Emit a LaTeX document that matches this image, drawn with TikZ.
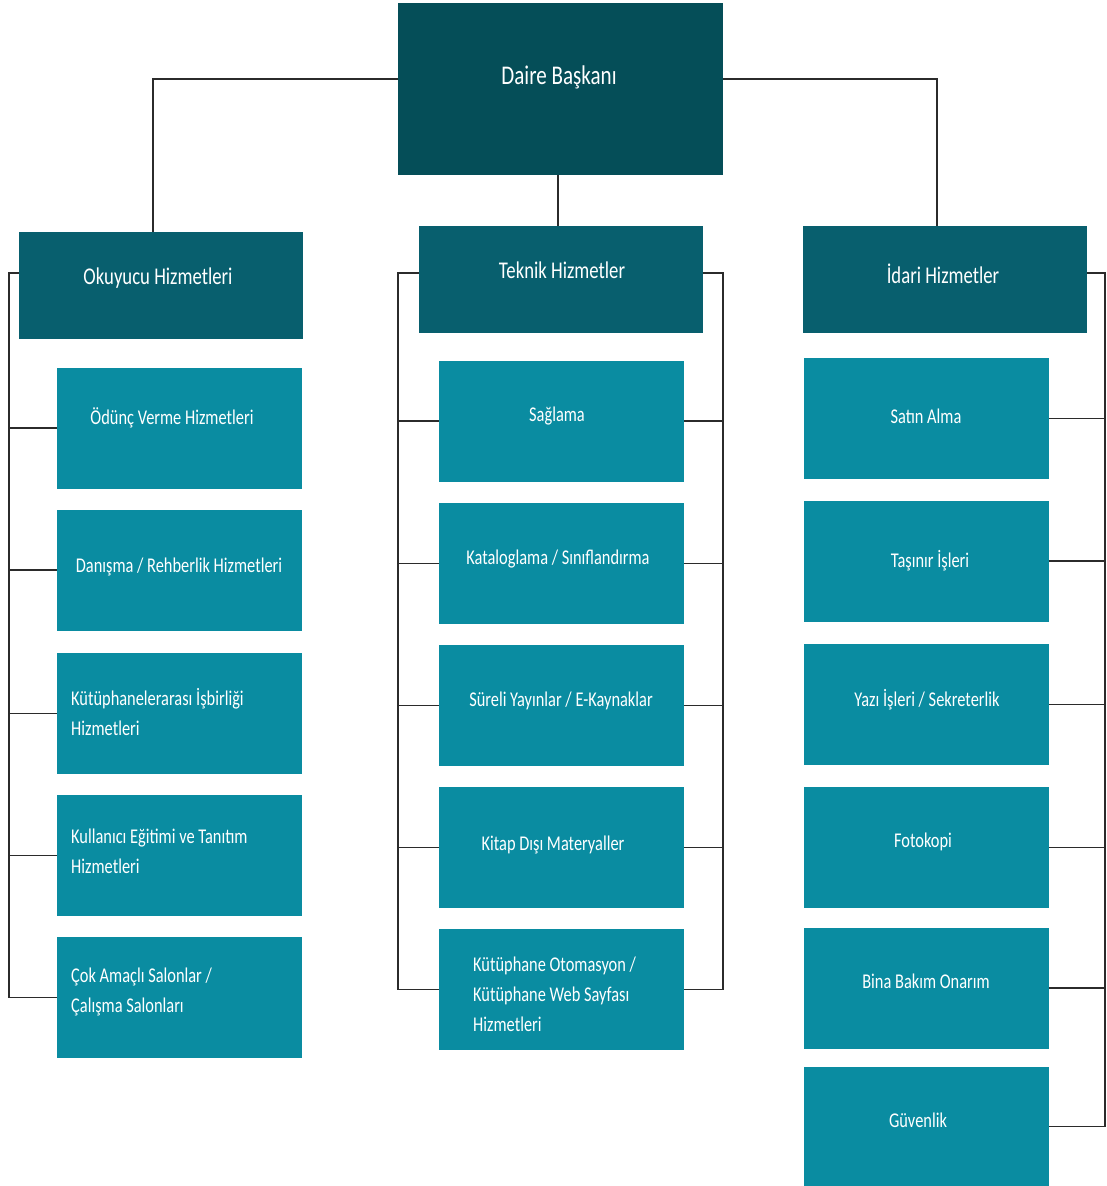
\documentclass[tikz,border=0pt]{standalone}
\usepackage{fontspec}
\setmainfont{Carlito}[FakeStretch=0.78]
\definecolor{topc}{HTML}{054E58}
\definecolor{headc}{HTML}{085F6E}
\definecolor{childc}{HTML}{0A8CA1}
\definecolor{linec}{HTML}{2B2B2B}
\tikzset{
  topbox/.style={rectangle, fill=topc, inner sep=0pt, minimum width=325pt, minimum height=172pt},
  headbox/.style={rectangle, fill=headc, inner sep=0pt, minimum width=284pt, minimum height=107pt},
  childbox/.style={rectangle, fill=childc, inner sep=0pt, minimum width=245pt, minimum height=121pt},
  lbl/.style={text=white, font=\fontsize{21}{30}\selectfont, inner sep=0pt, align=left},
  hlbl/.style={text=white, font=\fontsize{24}{28}\selectfont, inner sep=0pt},
  conn/.style={draw=linec, line width=1.3pt}
}
\begin{document}
\begin{tikzpicture}[x=1pt, y=-1pt]
\useasboundingbox (0,0) rectangle (1107,1186);
% boxes
\node[topbox] (daire) at (560.5,89) {};
\node[headbox] (ok) at (161,285) {};
\node[headbox] (tek) at (561,279.5) {};
\node[headbox] (ida) at (945,279.5) {};
% left children
\node[childbox] (l1) at (179.5,428) {};
\node[childbox] (l2) at (179.5,570) {};
\node[childbox] (l3) at (179.5,713.5) {};
\node[childbox] (l4) at (179.5,855.5) {};
\node[childbox] (l5) at (179.5,997.5) {};
% middle children
\node[childbox] (m1) at (561.5,421) {};
\node[childbox] (m2) at (561.5,563.5) {};
\node[childbox] (m3) at (561.5,705.5) {};
\node[childbox] (m4) at (561.5,847.5) {};
\node[childbox] (m5) at (561.5,989.5) {};
% right children
\node[childbox] (r1) at (926.5,418.5) {};
\node[childbox] (r2) at (926.5,561) {};
\node[childbox] (r3) at (926.5,704.5) {};
\node[childbox] (r4) at (926.5,847.5) {};
\node[childbox] (r5) at (926.5,988) {};
\node[childbox, minimum height=119pt] (r6) at (926.5,1126.5) {};
% texts
\node[hlbl, font=\fontsize{27}{30}\selectfont] (tdaire) at (559,77) {Daire Başkanı};
\node[hlbl] (tok) at (158,278) {Okuyucu Hizmetleri};
\node[hlbl] (ttek) at (562,270) {Teknik Hizmetler};
\node[hlbl] (tida) at (943,274) {İdari Hizmetler};
\node[lbl] (tl1) at (172,418) {Ödünç Verme Hizmetleri};
\node[lbl] (tl2) at (179,567) {Danışma / Rehberlik Hizmetleri};
\node[lbl, anchor=west] (tl3) at (71,712) {Kütüphanelerarası İşbirliği\\Hizmetleri};
\node[lbl, anchor=west] (tl4) at (71,851) {Kullanıcı Eğitimi ve Tanıtım\\Hizmetleri};
\node[lbl, anchor=west] (tl5) at (71,992) {Çok Amaçlı Salonlar /\\Çalışma Salonları};
\node[lbl] (tm1) at (557,416) {Sağlama};
\node[lbl] (tm2) at (558,559) {Kataloglama / Sınıflandırma};
\node[lbl] (tm3) at (561,701) {Süreli Yayınlar / E-Kaynaklar};
\node[lbl] (tm4) at (553,845) {Kitap Dışı Materyaller};
\node[lbl, anchor=west] (tm5) at (473,994) {Kütüphane Otomasyon /\\Kütüphane Web Sayfası\\Hizmetleri};
\node[lbl] (tr1) at (926,416) {Satın Alma};
\node[lbl] (tr2) at (930,561) {Taşınır İşleri};
\node[lbl] (tr3) at (927,700) {Yazı İşleri / Sekreterlik};
\node[lbl] (tr4) at (923,842) {Fotokopi};
\node[lbl] (tr5) at (926,981) {Bina Bakım Onarım};
\node[lbl] (tr6) at (918,1120) {Güvenlik};
% spine coordinates
\coordinate (dl) at (398,79);
\coordinate (dr) at (723,79);
\coordinate (lsp) at (9,273);
\coordinate (mlsp) at (398,273);
\coordinate (mrsp) at (723,273);
\coordinate (rsp) at (1105,273);
% top connectors
\draw[conn] (dl) -| (153,232);
\draw[conn] (dr) -| (937,226);
\draw[conn] (daire.south -| 558,0) -- (558,226);
% left spine
\draw[conn] (ok.west |- lsp) -- (lsp) -- (lsp |- l5.west);
\foreach \n in {l1,l2,l3,l4,l5} \draw[conn] (\n.west) -- (\n.west -| lsp);
% middle spines
\draw[conn] (tek.west |- mlsp) -- (mlsp) -- (mlsp |- m5.west);
\draw[conn] (tek.east |- mrsp) -- (mrsp) -- (mrsp |- m5.east);
\foreach \n in {m1,m2,m3,m4,m5} {
  \draw[conn] (\n.west) -- (\n.west -| mlsp);
  \draw[conn] (\n.east) -- (\n.east -| mrsp);
}
% right spine
\draw[conn] (ida.east |- rsp) -- (rsp) -- (rsp |- r6.east);
\foreach \n in {r1,r2,r3,r4,r5,r6} \draw[conn] (\n.east) -- (\n.east -| rsp);
\end{tikzpicture}
\end{document}
